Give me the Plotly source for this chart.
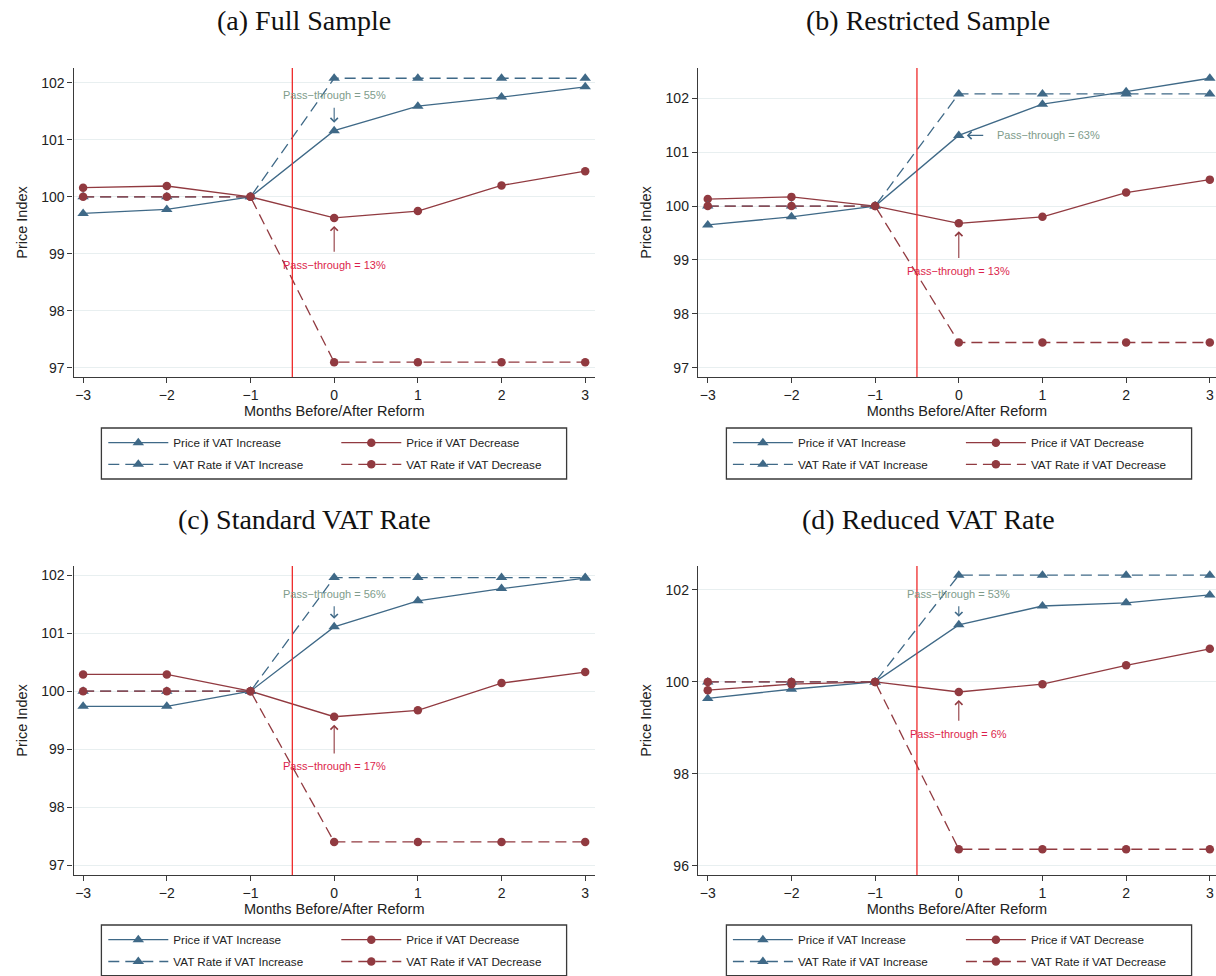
import plotly.graph_objects as go

# ---------------- data ----------------
months = [-3, -2, -1, 0, 1, 2, 3]
x_tick_labels = ["\u22123", "\u22122", "\u22121", "0", "1", "2", "3"]

panel_titles = ["(a) Full Sample", "(b) Restricted Sample",
                "(c) Standard VAT Rate", "(d) Reduced VAT Rate"]

series_names = ["Price if VAT Increase", "Price if VAT Decrease",
                "VAT Rate if VAT Increase", "VAT Rate if VAT Decrease"]

# (a) Full Sample
price_inc_a = [99.71, 99.78, 100.0, 101.16, 101.59, 101.75, 101.93]
price_dec_a = [100.16, 100.19, 100.0, 99.63, 99.75, 100.20, 100.45]
vat_inc_a = [100.0, 100.0, 100.0, 102.08, 102.08, 102.08, 102.08]
vat_dec_a = [100.0, 100.0, 100.0, 97.10, 97.10, 97.10, 97.10]

# (b) Restricted Sample
price_inc_b = [99.65, 99.80, 100.0, 101.31, 101.89, 102.12, 102.37]
price_dec_b = [100.13, 100.17, 100.0, 99.68, 99.80, 100.25, 100.49]
vat_inc_b = [100.0, 100.0, 100.0, 102.08, 102.08, 102.08, 102.08]
vat_dec_b = [100.0, 100.0, 100.0, 97.47, 97.47, 97.47, 97.47]

# (c) Standard VAT Rate
price_inc_c = [99.74, 99.74, 100.0, 101.11, 101.56, 101.77, 101.95]
price_dec_c = [100.29, 100.29, 100.0, 99.56, 99.67, 100.14, 100.33]
vat_inc_c = [100.0, 100.0, 100.0, 101.96, 101.96, 101.96, 101.96]
vat_dec_c = [100.0, 100.0, 100.0, 97.40, 97.40, 97.40, 97.40]

# (d) Reduced VAT Rate
price_inc_d = [99.64, 99.84, 100.0, 101.24, 101.65, 101.72, 101.89]
price_dec_d = [99.82, 99.95, 100.0, 99.78, 99.95, 100.36, 100.72]
vat_inc_d = [100.0, 100.0, 100.0, 102.32, 102.32, 102.32, 102.32]
vat_dec_d = [100.0, 100.0, 100.0, 96.36, 96.36, 96.36, 96.36]

# pass-through labels
pass_inc_labels = ["Pass\u2212through = 55%", "Pass\u2212through = 63%",
                   "Pass\u2212through = 56%", "Pass\u2212through = 53%"]
pass_dec_labels = ["Pass\u2212through = 13%", "Pass\u2212through = 13%",
                   "Pass\u2212through = 17%", "Pass\u2212through = 6%"]

y_ticks_abc = [97, 98, 99, 100, 101, 102]
y_ticks_d = [96, 98, 100, 102]

reform_line_x = -0.5

# ---------------- style ----------------
W, H = 1216, 976
BLUE = "#3f6987"
RED = "#913a40"
VLINE = "#ee2a2a"
AXIS = "#3a3a3a"
GRID = "#e8eff0"
TXT_GREEN = "#809c8b"
TXT_RED = "#dc1f4c"
SANS = "Liberation Sans, Arial, sans-serif"
SERIF = "Liberation Serif, Times New Roman, serif"

panels = [
    dict(pi=price_inc_a, pd=price_dec_a, vi=vat_inc_a, vd=vat_dec_a, yt=y_ticks_abc,
         xdom=(73.5, 595), ydom=(68, 377), xr=(-3.115, 3.117), yr=(96.84, 102.26),
         title_c=(304, 21),
         inc_txt=(0, 101.78), inc_tail=(0, 101.59),
         dec_txt=(0, 98.80), dec_tail=(0, 99.01),
         box=(101.4, 566.6, 428, 479), leg_x=103.3, rows=(442.7, 464.3)),
    dict(pi=price_inc_b, pd=price_dec_b, vi=vat_inc_b, vd=vat_dec_b, yt=y_ticks_abc,
         xdom=(697.9, 1216), ydom=(68, 377), xr=(-3.118, 3.074), yr=(96.83, 102.56),
         title_c=(928, 21),
         inc_txt=(1.072, 101.31), inc_tail=(0.31, 101.31),
         dec_txt=(0, 98.80), dec_tail=(0, 99.01),
         box=(726.4, 1191.6, 428, 479), leg_x=727.9, rows=(442.7, 464.3)),
    dict(pi=price_inc_c, pd=price_dec_c, vi=vat_inc_c, vd=vat_dec_c, yt=y_ticks_abc,
         xdom=(73.5, 595), ydom=(566, 875), xr=(-3.115, 3.117), yr=(96.83, 102.16),
         title_c=(304, 519),
         inc_txt=(0, 101.68), inc_tail=(0, 101.49),
         dec_txt=(0, 98.71), dec_tail=(0, 98.90),
         box=(101.4, 566.6, 925, 975.7), leg_x=103.3, rows=(939.7, 961.7)),
    dict(pi=price_inc_d, pd=price_dec_d, vi=vat_inc_d, vd=vat_dec_d, yt=y_ticks_d,
         xdom=(697.9, 1216), ydom=(566, 875), xr=(-3.118, 3.074), yr=(95.80, 102.52),
         title_c=(928, 519),
         inc_txt=(0, 101.92), inc_tail=(0, 101.68),
         dec_txt=(0, 98.87), dec_tail=(0, 99.12),
         box=(726.4, 1191.6, 925, 975.7), leg_x=727.9, rows=(939.7, 961.7)),
]

fig = go.Figure()
layout = dict(width=W, height=H, template="none", paper_bgcolor="white",
              plot_bgcolor="white", margin=dict(l=0, r=0, t=0, b=0),
              font=dict(family=SANS, color="#222"), showlegend=True)
annotations = []
shapes = []

for i, p in enumerate(panels):
    n = "" if i == 0 else str(i + 1)
    xa, ya = "x" + n, "y" + n
    leg1 = "legend" if i == 0 else "legend%d" % (2 * i + 1)
    leg2 = "legend%d" % (2 * i + 2)

    def add(yvals, name, color, dash, symbol, size, leg):
        fig.add_trace(go.Scatter(
            x=months, y=yvals, name=name, mode="lines+markers",
            line=dict(color=color, width=1.3, dash=dash),
            marker=dict(symbol=symbol, size=size, color=color, line=dict(width=0)),
            xaxis=xa, yaxis=ya, legend=leg, hoverinfo="x+y+name"))

    add(p["pi"], series_names[0], BLUE, "solid", "triangle-up", 10, leg1)
    add(p["pd"], series_names[1], RED, "solid", "circle", 8.5, leg1)
    add(p["vi"], series_names[2], BLUE, "11px,6px", "triangle-up", 10, leg2)
    add(p["vd"], series_names[3], RED, "11px,6px", "circle", 8.5, leg2)

    x0, x1 = p["xdom"]
    ytop, ybot = p["ydom"]
    layout["xaxis" + n] = dict(
        domain=[x0 / W, x1 / W], range=list(p["xr"]), anchor=ya,
        tickvals=months, ticktext=x_tick_labels, showline=True, linecolor=AXIS,
        linewidth=1.3, ticks="outside", ticklen=5, tickwidth=1.2, tickcolor=AXIS,
        showgrid=False, zeroline=False, automargin=False,
        tickfont=dict(family=SANS, size=14, color="#222"),
        title=dict(text="Months Before/After Reform", standoff=0,
                   font=dict(family=SANS, size=14.5, color="#222")))
    layout["yaxis" + n] = dict(
        domain=[1 - ybot / H, 1 - ytop / H], range=list(p["yr"]), anchor=xa,
        tickvals=p["yt"], ticktext=[str(v) for v in p["yt"]], showline=True,
        linecolor=AXIS, linewidth=1.3, ticks="outside", ticklen=5, tickwidth=1.2,
        tickcolor=AXIS, showgrid=True, gridcolor=GRID, gridwidth=1.2,
        zeroline=False, automargin=False,
        tickfont=dict(family=SANS, size=14, color="#222"),
        title=dict(text="Price Index", standoff=10,
                   font=dict(family=SANS, size=14.5, color="#222")))

    # legends: one per row, drawn inside a framed box
    for leg, yc in ((leg1, p["rows"][0]), (leg2, p["rows"][1])):
        layout[leg] = dict(
            orientation="h", x=p["leg_x"] / W, xanchor="left", y=1 - yc / H,
            yanchor="middle", bgcolor="rgba(0,0,0,0)", borderwidth=0,
            font=dict(family=SANS, size=11.7, color="#222"), itemwidth=60,
            entrywidth=158, entrywidthmode="pixels", traceorder="normal")
    bx0, bx1, by0, by1 = p["box"]
    shapes.append(dict(type="rect", xref="paper", yref="paper",
                       x0=bx0 / W, x1=bx1 / W, y0=1 - by1 / H, y1=1 - by0 / H,
                       line=dict(color=AXIS, width=1.3), fillcolor="rgba(0,0,0,0)"))

    # reform line
    shapes.append(dict(type="line", xref=xa, yref=ya + " domain",
                       x0=reform_line_x, x1=reform_line_x, y0=0, y1=1,
                       line=dict(color=VLINE, width=1.3)))

    # panel title
    tx, ty = p["title_c"]
    annotations.append(dict(text=panel_titles[i], xref="paper", yref="paper",
                            x=tx / W, y=1 - ty / H, xanchor="center", yanchor="middle",
                            showarrow=False, font=dict(family=SERIF, size=28, color="#111")))

    # pass-through arrows and labels
    idx0 = months.index(0)
    annotations.append(dict(text="", x=0, y=p["pi"][idx0], xref=xa, yref=ya,
                            ax=p["inc_tail"][0], ay=p["inc_tail"][1], axref=xa, ayref=ya,
                            showarrow=True, arrowhead=4, arrowsize=1.3, arrowwidth=1.1,
                            arrowcolor=BLUE, standoff=8))
    annotations.append(dict(text=pass_inc_labels[i], x=p["inc_txt"][0], y=p["inc_txt"][1],
                            xref=xa, yref=ya, showarrow=False, xanchor="center",
                            yanchor="middle", font=dict(family=SANS, size=11, color=TXT_GREEN)))
    annotations.append(dict(text="", x=0, y=p["pd"][idx0], xref=xa, yref=ya,
                            ax=p["dec_tail"][0], ay=p["dec_tail"][1], axref=xa, ayref=ya,
                            showarrow=True, arrowhead=4, arrowsize=1.3, arrowwidth=1.1,
                            arrowcolor=RED, standoff=8))
    annotations.append(dict(text=pass_dec_labels[i], x=p["dec_txt"][0], y=p["dec_txt"][1],
                            xref=xa, yref=ya, showarrow=False, xanchor="center",
                            yanchor="middle", font=dict(family=SANS, size=11, color=TXT_RED)))

layout["annotations"] = annotations
layout["shapes"] = shapes
fig.update_layout(**layout)
fig.write_html("out.html",
               config={"displayModeBar": False},
               post_script="document.body.style.margin='0px';"
                           "document.body.style.padding='0px';")
